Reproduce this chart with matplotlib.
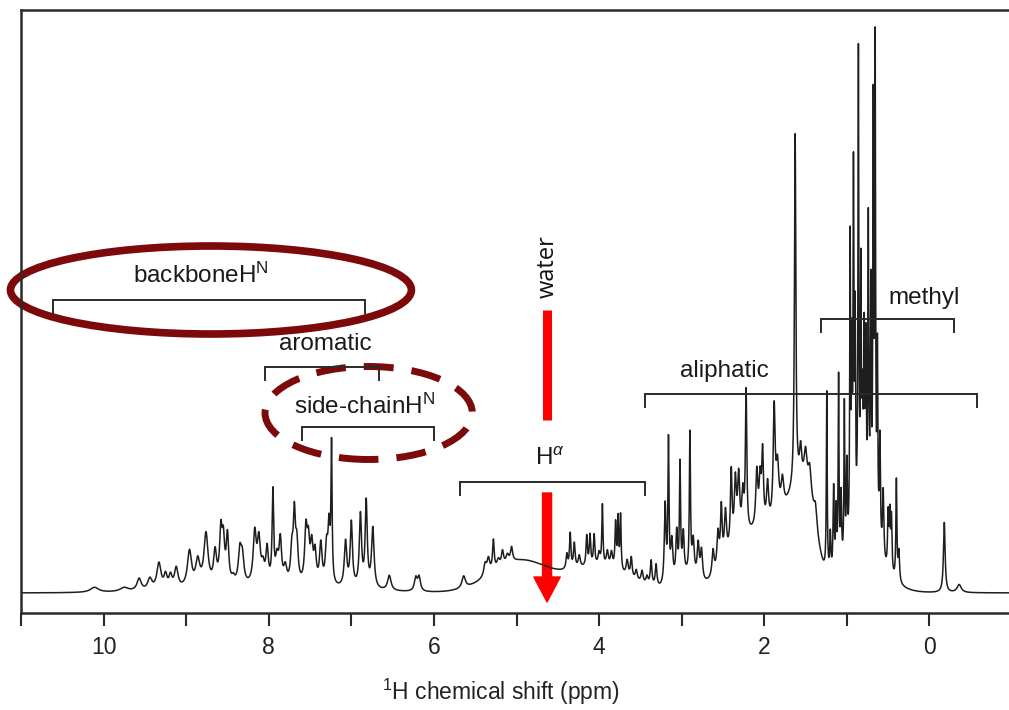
import numpy as np
import matplotlib
matplotlib.use("Agg")
import matplotlib.pyplot as plt
from matplotlib.patches import Ellipse, FancyArrowPatch

plt.rcParams['font.family'] = ['Liberation Sans', 'DejaVu Sans']
plt.rcParams['mathtext.fontset'] = 'custom'
plt.rcParams['mathtext.rm'] = 'Liberation Sans'
plt.rcParams['mathtext.it'] = 'Liberation Sans:italic'

# pics du spectre 1H : position (ppm), hauteur, demi-largeur (ppm)
peak_ppm = [10.11, 9.75, 9.57, 9.44, 9.33, 9.25, 9.19, 9.12, 8.96, 8.86, 8.76, 8.65,
            8.58, 8.55, 8.50, 8.43, 8.35, 8.32, 8.17, 8.12, 8.07, 8.02, 7.95, 7.90,
            7.86, 7.80, 7.72, 7.69, 7.66, 7.55, 7.52, 7.48, 7.44, 7.37, 7.30, 7.27,
            7.24, 7.07, 7.00, 6.89, 6.82, 6.74, 6.54, 6.22, 6.18, 5.64,
            5.38, 5.34, 5.28, 5.22, 5.17, 5.11, 5.06, 4.39, 4.35, 4.30, 4.24, 4.15,
            4.11, 4.06, 4.00, 3.96, 3.90, 3.85, 3.80, 3.77, 3.74, 3.66, 3.61, 3.55,
            3.48, 3.42, 3.37, 3.31,
            3.20, 3.16, 3.12, 3.06, 3.02, 2.98, 2.90, 2.86, 2.80, 2.76, 2.62, 2.56,
            2.52, 2.47, 2.40, 2.35, 2.31, 2.26, 2.22, 2.09, 2.05, 2.02, 1.96, 1.88,
            1.84, 1.78, 1.626, 1.56, 1.50, 1.45, 1.38, 1.243, 1.20, 1.16, 1.13, 1.10,
            1.07, 1.03, 1.00, 0.96, 0.94, 0.92, 0.90, 0.86, 0.83, 0.81, 0.79, 0.77,
            0.74, 0.71, 0.68, 0.657, 0.63, 0.60, 0.56, 0.50, 0.48, 0.46,
            0.40, 0.37, -0.18, -0.36]
peak_height = [5, 4, 12, 11, 26, 13, 12, 20, 36, 25, 52, 32,
               50, 40, 48, 6, 32, 26, 50, 42, 16, 34, 90, 24,
               42, 16, 32, 64, 38, 52, 38, 36, 30, 40, 36, 54,
               135, 45, 64, 72, 85, 60, 15, 13, 14, 12,
               12, 15, 30, 8, 14, 8, 14, 15, 35, 25, 12, 30,
               30, 30, 12, 60, 15, 15, 45, 50, 55, 15, 20, 10,
               12, 8, 25, 22,
               80, 140, 40, 45, 110, 40, 140, 35, 35, 30, 25, 35,
               55, 45, 75, 60, 60, 40, 140, 55, 45, 70, 40, 110,
               50, 30, 352, 30, 30, 25, 20, 180, 40, 85, 60, 190,
               70, 155, 90, 300, 170, 350, 200, 461, 230, 100, 160, 155,
               285, 220, 405, 475, 180, 110, 70, 55, 55, 55,
               100, 30, 70, 8]
peak_width = [0.06, 0.06, 0.03, 0.03, 0.03, 0.022, 0.022, 0.026, 0.03, 0.03, 0.03, 0.022,
              0.018, 0.018, 0.018, 0.022, 0.022, 0.022, 0.022, 0.022, 0.022, 0.018, 0.011, 0.022,
              0.018, 0.022, 0.018, 0.015, 0.018, 0.018, 0.018, 0.018, 0.018, 0.018, 0.018, 0.015,
              0.008, 0.018, 0.016, 0.016, 0.015, 0.018, 0.025, 0.02, 0.02, 0.025,
              0.02, 0.02, 0.012, 0.02, 0.015, 0.02, 0.015, 0.012, 0.010, 0.012, 0.015, 0.010,
              0.010, 0.010, 0.015, 0.008, 0.015, 0.015, 0.009, 0.008, 0.008, 0.015, 0.012, 0.015,
              0.015, 0.015, 0.012, 0.012,
              0.012, 0.008, 0.015, 0.012, 0.008, 0.012, 0.008, 0.015, 0.015, 0.015, 0.015, 0.015,
              0.012, 0.015, 0.012, 0.015, 0.015, 0.015, 0.010, 0.015, 0.015, 0.012, 0.015, 0.014,
              0.02, 0.02, 0.010, 0.015, 0.02, 0.02, 0.02, 0.006, 0.008, 0.008, 0.008, 0.006,
              0.008, 0.006, 0.008, 0.006, 0.006, 0.006, 0.006, 0.006, 0.006, 0.008, 0.006, 0.006,
              0.006, 0.006, 0.006, 0.006, 0.006, 0.008, 0.01, 0.008, 0.008, 0.008,
              0.007, 0.01, 0.012, 0.03]

# bosses larges sous les pics (centre ppm, hauteur, sigma ppm)
env_ppm = [8.0, 4.95, 4.0, 2.95, 2.35, 1.95, 1.6, 1.45, 0.8, 0.78]
env_height = [5, 32, 25, 15, 30, 55, 70, 45, 30, 45]
env_sigma = [0.9, 0.35, 0.35, 0.12, 0.2, 0.25, 0.15, 0.1, 0.25, 0.1]

# regions annotees : (debut, fin) en ppm et niveau en pixels au-dessus de la ligne de base
regions = ['backboneH$^\\mathregular{N}$', 'aromatic', 'side-chainH$^\\mathregular{N}$',
           'H$^\\alpha$', 'aliphatic', 'methyl']
region_start = [10.61, 8.04, 7.60, 5.68, 3.44, 1.31]
region_end = [6.83, 6.67, 6.00, 3.45, -0.58, -0.30]
region_level = [293, 226, 166, 111, 199, 274]
label_x = [8.82, 7.32, 6.84, 4.60, 2.48, 0.07]
label_y = [310, 243, 179, 128, 216, 289]

water_ppm = 4.63

ppm = np.linspace(11, -1, 12001)
spectre = np.zeros_like(ppm)
for c, h, w in zip(peak_ppm, peak_height, peak_width):
    spectre += h / (1 + ((ppm - c) / w) ** 2)
for c, h, s in zip(env_ppm, env_height, env_sigma):
    spectre += h * np.exp(-(ppm - c) ** 2 / (2 * s ** 2))

fig = plt.figure(figsize=(10.09, 7.10), dpi=100)
ax = fig.add_axes([21 / 1009, 97 / 710, 991 / 1009, 603 / 710])
ax.plot(ppm, spectre, color='#1e1e1e', lw=1.1)
ax.set_xlim(11, -1)
ax.set_ylim(-20, 583)

for side in ['top', 'left', 'bottom', 'right']:
    ax.spines[side].set_linewidth(1.8)
    ax.spines[side].set_color('#2a2a2a')
ax.set_yticks([])
ax.set_xticks([10, 8, 6, 4, 2, 0])
ax.set_xticks([11, 9, 7, 5, 3, 1, -1], minor=True)
ax.tick_params(axis='x', which='both', direction='out', length=9.5, width=1.5,
               color='#2a2a2a', labelsize=16.5, pad=7, labelcolor='#222222')
ax.set_xlabel('$^\\mathregular{1}$H chemical shift (ppm)', fontsize=16.5, color='#222222')
ax.xaxis.set_label_coords((501 - 21) / 991, -0.105)

# crochets et etiquettes
for nom, x0, x1, lev, lx, ly in zip(regions, region_start, region_end, region_level, label_x, label_y):
    ax.plot([x0, x0, x1, x1], [lev - 13, lev, lev, lev - 13], color='#2a2a2a', lw=1.4,
            clip_on=False, solid_joinstyle='miter')
    ax.text(lx, ly, nom, ha='center', va='baseline', fontsize=17.5, color='#1a1a1a')

# eau : barre rouge, texte vertical et fleche
ax.text(water_ppm - 0.01, 326, 'water', rotation=90, ha='center', va='center',
        fontsize=17, color='#111111', family=['Open Sans', 'DejaVu Sans'])
ax.plot([water_ppm, water_ppm], [173, 283], color='#ff0000', lw=6.5, solid_capstyle='butt')
fleche = FancyArrowPatch((water_ppm, 100), (water_ppm, -9),
                         arrowstyle='simple,head_length=18,head_width=19,tail_width=6.5',
                         mutation_scale=1, color='#ff0000', shrinkA=0, shrinkB=0, clip_on=False)
ax.add_patch(fleche)

# ellipses de mise en evidence
ax.add_patch(Ellipse((8.70, 303), 4.855, 88, fill=False, edgecolor='#7d0a0a', lw=5.5,
                     clip_on=False))
ax.add_patch(Ellipse((6.79, 180), 2.51, 93, fill=False, edgecolor='#7d0a0a', lw=5.0,
                     linestyle=(0, (4.3, 2.6)), clip_on=False))

fig.savefig('out.png', dpi=100)
